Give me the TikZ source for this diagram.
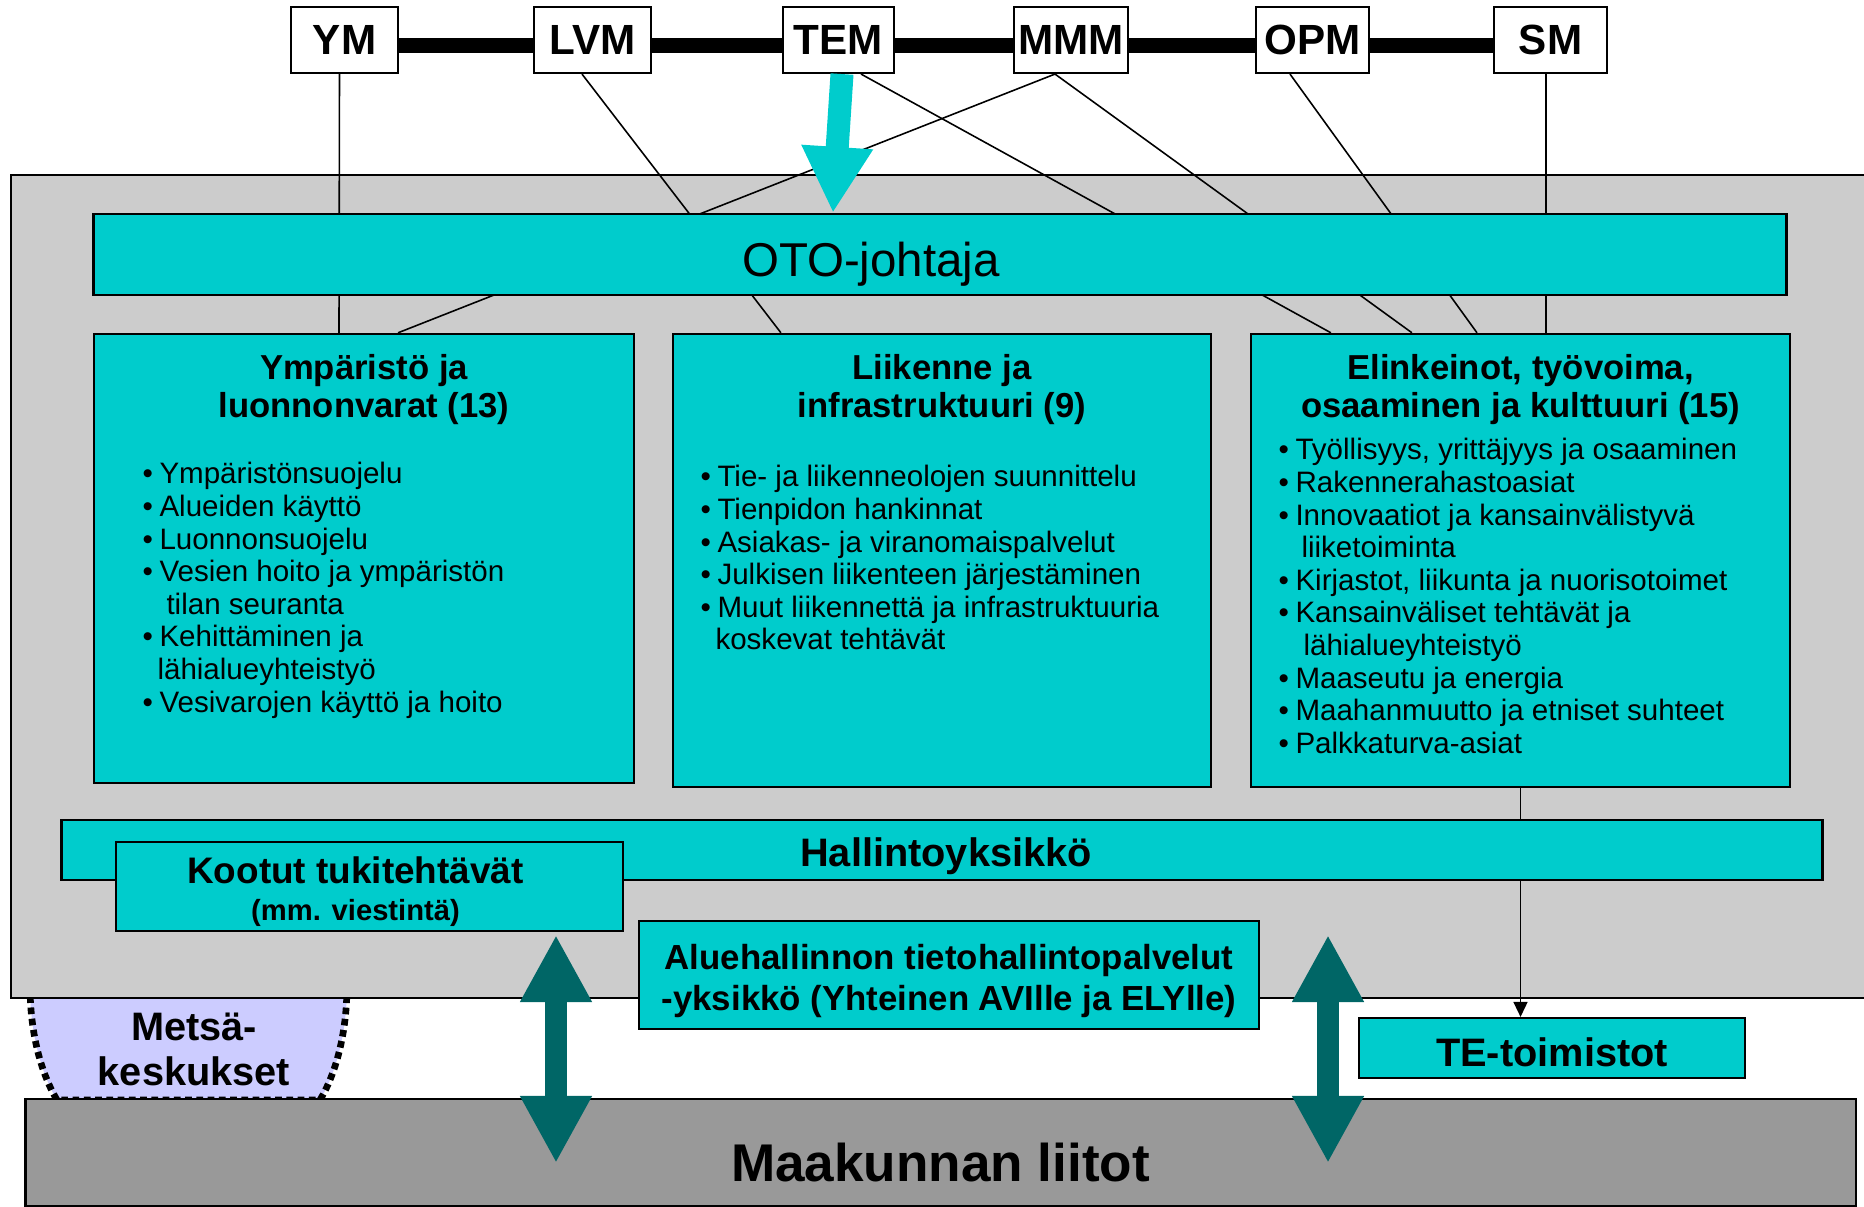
\documentclass[tikz,border=0pt]{standalone}
\usepackage{fontspec}
\setmainfont{Liberation Sans}
\usetikzlibrary{arrows.meta,positioning}

\definecolor{otocyan}{RGB}{0,204,204}
\definecolor{taustagray}{RGB}{204,204,204}
\definecolor{liitotgray}{RGB}{153,153,153}
\definecolor{metsaviol}{RGB}{204,204,255}
\definecolor{nuolivihr}{RGB}{0,102,102}

\newcommand{\blt}{\makebox[0.17cm][l]{\textbullet}}
\newcommand{\bltc}[1]{\hspace*{#1}}

\tikzset{%
  ministerio/.style={draw, fill=white, line width=0.6pt, minimum width=1.13cm, minimum height=0.66cm, inner sep=0.5pt, font=\fontsize{12}{14}\selectfont\bfseries},
  yksikko/.style={draw, fill=otocyan, line width=0.6pt, inner sep=0pt},
  otsikko/.style={align=center, inner sep=0pt, font=\fontsize{9.85}{10.8}\selectfont\bfseries},
  lista/.style={align=left, inner sep=0pt, font=\fontsize{8.4}{9.27}\selectfont},
  viiva/.style={draw, line width=0.45pt, color=black},
  palkki/.style={draw, line width=0.15cm, color=black},
  nuoli/.style={draw, color=otocyan, line width=0.23cm, -{Triangle[length=0.66cm,width=0.67cm]}},
  kaksinuoli/.style={draw, color=nuolivihr, line width=0.22cm, {Triangle[length=0.67cm,width=0.67cm]}-{Triangle[length=0.67cm,width=0.67cm]}},
  metsa/.style={fill=metsaviol, draw=black, line width=1.9pt, dash pattern=on 1.9pt off 1.3pt},
}

\begin{document}
\begin{tikzpicture}[x=0.01cm, y=-0.01cm]
\useasboundingbox (0,0) rectangle (1864,1207);

% metsakeskukset, tausta ja maakunnan liitot
\path[metsa] (30,985) .. controls (30,1035) and (42,1075) .. (57,1100) -- (320,1100) .. controls (335,1075) and (347,1035) .. (347,985) -- cycle;
\draw[fill=taustagray, line width=0.6pt] (11,175) rectangle (1880,998);
\node[draw, fill=liitotgray, line width=0.6pt, minimum width=18.29cm, minimum height=1.07cm, inner sep=0pt,
  label={[font=\fontsize{15.1}{17}\selectfont\bfseries, yshift=-0.1cm]center:Maakunnan liitot}] (liitot) at (940.5,1152.5) {};
\node[font=\fontsize{11.3}{12.8}\selectfont\bfseries, align=center] (metsa) at (194,1049) {Metsä-\\keskukset};

% vastuualueet
\node[yksikko, minimum width=5.40cm, minimum height=4.49cm] (ymp) at (364,558.5) {};
\node[yksikko, minimum width=5.38cm, minimum height=4.53cm] (lii) at (942,560.5) {};
\node[yksikko, minimum width=5.39cm, minimum height=4.53cm] (elin) at (1520.5,560.5) {};

\node[otsikko, below=0.21cm of ymp.north] (ympt) {Ympäristö ja\\luonnonvarat (13)};
\node[otsikko, below=0.21cm of lii.north] (liit) {Liikenne ja\\infrastruktuuri (9)};
\node[otsikko, below=0.21cm of elin.north] (elint) {Elinkeinot, työvoima,\\osaaminen ja kulttuuri (15)};

\node[lista, below right=1.29cm and 0.49cm of ymp.north west] (ympl) {%
  \blt Ympäristönsuojelu\\
  \blt Alueiden käyttö\\
  \blt Luonnonsuojelu\\
  \blt Vesien hoito ja ympäristön\\
  \bltc{0.24cm}tilan seuranta\\
  \blt Kehittäminen ja\\
  \bltc{0.15cm}lähialueyhteistyö\\
  \blt Vesivarojen käyttö ja hoito};
\node[lista, below right=1.32cm and 0.28cm of lii.north west] (liil) {%
  \blt Tie- ja liikenneolojen suunnittelu\\
  \blt Tienpidon hankinnat\\
  \blt Asiakas- ja viranomaispalvelut\\
  \blt Julkisen liikenteen järjestäminen\\
  \blt Muut liikennettä ja infrastruktuuria\\
  \bltc{0.15cm}koskevat tehtävät};
\node[lista, below right=1.05cm and 0.28cm of elin.north west] (elinl) {%
  \blt Työllisyys, yrittäjyys ja osaaminen\\
  \blt Rakennerahastoasiat\\
  \blt Innovaatiot ja kansainvälistyvä\\
  \bltc{0.23cm}liiketoiminta\\
  \blt Kirjastot, liikunta ja nuorisotoimet\\
  \blt Kansainväliset tehtävät ja\\
  \bltc{0.25cm}lähialueyhteistyö\\
  \blt Maaseutu ja energia\\
  \blt Maahanmuutto ja etniset suhteet\\
  \blt Palkkaturva-asiat};

% ministeriot
\node[ministerio, minimum width=1.07cm] (YM) at (344.5,40) {YM};
\node[ministerio, minimum width=1.17cm] (LVM) at (592.5,40) {LVM};
\node[ministerio, minimum width=1.11cm] (TEM) at (838.5,40) {TEM};
\node[ministerio, minimum width=1.14cm] (MMM) at (1071,40) {MMM};
\node[ministerio] (OPM) at (1312.5,40) {OPM};
\node[ministerio] (SM) at (1550.5,40) {SM};
\foreach \a/\b in {YM/LVM,LVM/TEM,TEM/MMM,MMM/OPM,OPM/SM}
  \draw[palkki] ([yshift=-0.06cm]\a.east) -- ([yshift=-0.06cm]\b.west);

\draw[viiva] ([xshift=-0.05cm]YM.south) -- ([xshift=-0.25cm]ymp.north);
\draw[viiva] ([xshift=-0.16cm]MMM.south) -- ([xshift=0.34cm]ymp.north);
\draw[viiva] ([xshift=-0.105cm]LVM.south) -- ([xshift=-1.61cm]lii.north);
\draw[viiva] ([xshift=0.225cm]TEM.south) -- ([xshift=-1.895cm]elin.north);
\draw[viiva] ([xshift=-0.16cm]MMM.south) -- ([xshift=-1.085cm]elin.north);
\draw[viiva] ([xshift=-0.225cm]OPM.south) -- ([xshift=-0.435cm]elin.north);
\draw[viiva] ([xshift=-0.045cm]SM.south) -- ([xshift=0.255cm]elin.north);

\node[yksikko, minimum width=16.92cm, minimum height=0.81cm,
  label={[font=\fontsize{13.5}{16}\selectfont, xshift=-0.69cm, yshift=-0.1cm]center:OTO-johtaja}] (oto) at (940,254.5) {};
\draw[nuoli] ([xshift=0.035cm]TEM.south) -- ([xshift=-1.07cm]oto.north);

% hallinto ja yhteiset yksikot
\node[yksikko, minimum width=3.86cm, minimum height=0.60cm,
  label={[font=\fontsize{11.3}{13}\selectfont\bfseries, yshift=-0.04cm]center:TE-toimistot}] (te) at (1552,1048) {};
\draw[viiva, -{Triangle[length=0.15cm,width=0.14cm]}] (elin.south) -- (elin.south |- te.north);
\node[yksikko, minimum width=17.60cm, minimum height=0.60cm,
  label={[font=\fontsize{11.3}{13}\selectfont\bfseries, xshift=0.04cm, yshift=-0.06cm]center:Hallintoyksikkö}] (hallinto) at (942,850) {};
\node[yksikko, minimum width=5.07cm, minimum height=0.89cm,
  label={[align=center, font=\fontsize{10.5}{10.4}\selectfont\bfseries, xshift=-0.14cm, yshift=-0.05cm]center:Kootut tukitehtävät\\{\fontsize{8.3}{10.4}\selectfont (mm. viestintä)}}] (kootut) at (369.5,886.5) {};
\node[yksikko, minimum width=6.20cm, minimum height=1.08cm,
  label={[align=center, font=\fontsize{9.9}{11.4}\selectfont\bfseries, yshift=-0.06cm]center:Aluehallinnon tietohallintopalvelut\\-yksikkö (Yhteinen AVIlle ja ELYlle)}] (alue) at (949,975) {};

% yhteydet maakunnan liittoihin
\coordinate (kv1) at (556,935);
\coordinate (kv2) at (556,1163);
\coordinate (ko1) at (1328,935);
\coordinate (ko2) at (1328,1163);
\draw[kaksinuoli] (kv1) -- (kv2);
\draw[kaksinuoli] (ko1) -- (ko2);
\end{tikzpicture}
\end{document}
